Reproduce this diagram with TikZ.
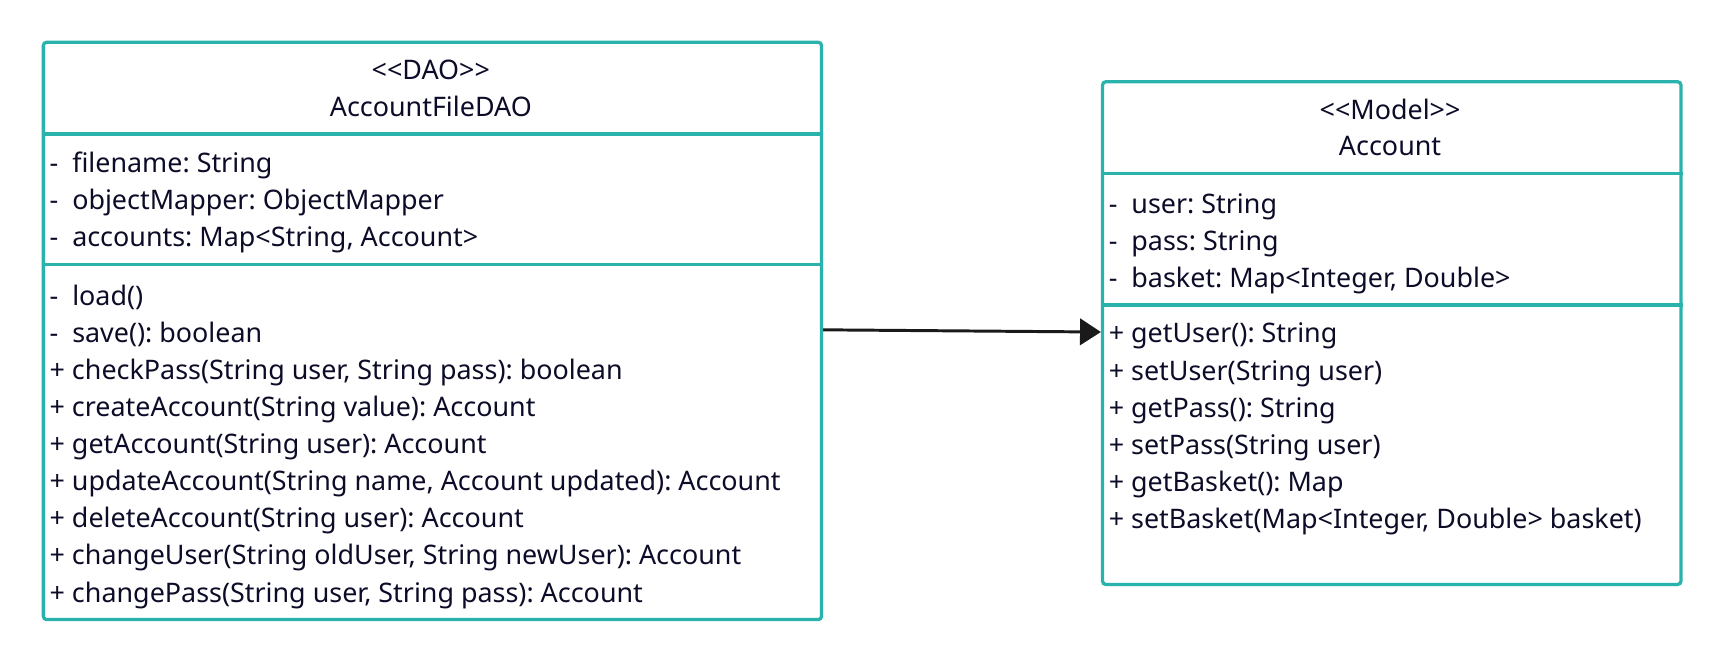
\documentclass[tikz,border=0pt]{standalone}
\usepackage{fontspec}
\setmainfont{Noto Sans}
\usetikzlibrary{arrows.meta}
\definecolor{umlTeal}{RGB}{42, 178, 172}
\definecolor{umlText}{RGB}{12, 12, 40}
\definecolor{umlArrow}{RGB}{26, 26, 26}
\frenchspacing

\begin{document}
\begin{tikzpicture}[x=1pt,y=-1pt,
  classbox/.style={draw=umlTeal, line width=3pt, rounded corners=3pt, inner sep=0pt, anchor=north west},
  sep/.style={draw=umlTeal, line width=3pt},
  member/.style={anchor=base west, inner sep=0pt, text=umlText, font=\fontsize{24.5}{29}\selectfont},
  title/.style={anchor=base, inner sep=0pt, text=umlText, font=\fontsize{24.5}{29}\selectfont},
  assoc/.style={draw=umlArrow, line width=2.7pt, -{Triangle[length=19pt,width=24pt]}}]
\useasboundingbox (0,0) rectangle (1568,599.5);

% Class boxes
\node[classbox, minimum width=709pt, minimum height=526pt] (dao) at (38,37) {};
\node[classbox, minimum width=527pt, minimum height=458pt] (acc) at (1003,73) {};

% Compartment lines
\draw[sep] (dao.west |- 0,122) -- (dao.east |- 0,122);
\draw[sep] (dao.west |- 0,241) -- (dao.east |- 0,241);
\draw[sep] (acc.west |- 0,158) -- (acc.east |- 0,158);
\draw[sep] (acc.west |- 0,278) -- (acc.east |- 0,278);

% Titles
\node[title] (daostereo) at (392.5,72) {<{}<DAO>{}>};
\node[title] (daoname) at (392.5,106) {AccountFileDAO};
\node[title] (accstereo) at (1266.5,108.5) {<{}<Model>{}>};
\node[title] (accname) at (1266.5,141.5) {Account};

% Attributes
\foreach \txt [count=\i] in {{-~~filename: String}, {-~~objectMapper: ObjectMapper},
    {-~~accounts: Map<String, Account>}}
  \node[member] (daoa\i) at (45,{157.5+33.75*(\i-1)}) {\txt};
\foreach \txt [count=\i] in {{-~~user: String}, {-~~pass: String},
    {-~~basket: Map<Integer, Double>}}
  \node[member] (acca\i) at (1010,{194.5+33.75*(\i-1)}) {\txt};

% Methods
\foreach \txt [count=\i] in {{-~~load()}, {-~~save(): boolean},
    {+ checkPass(String user, String pass): boolean},
    {+ createAccount(String value): Account},
    {+ getAccount(String user): Account},
    {+ updateAccount(String name, Account updated): Account},
    {+ deleteAccount(String user): Account},
    {+ changeUser(String oldUser, String newUser): Account},
    {+ changePass(String user, String pass): Account}}
  \node[member] (daom\i) at (45,{278.5+33.75*(\i-1)}) {\txt};
\foreach \txt [count=\i] in {{+ getUser(): String}, {+ setUser(String user)},
    {+ getPass(): String}, {+ setPass(String user)},
    {+ getBasket(): Map}, {+ setBasket(Map<Integer, Double> basket)}}
  \node[member] (accm\i) at (1010,{312.5+33.75*(\i-1)}) {\txt};

% Association
\coordinate (daoout) at (dao.east |- 0,300.5);
\coordinate (accin) at (acc.west |- 0,302.5);
\draw[assoc] (daoout) -- (accin);
\end{tikzpicture}
\end{document}
